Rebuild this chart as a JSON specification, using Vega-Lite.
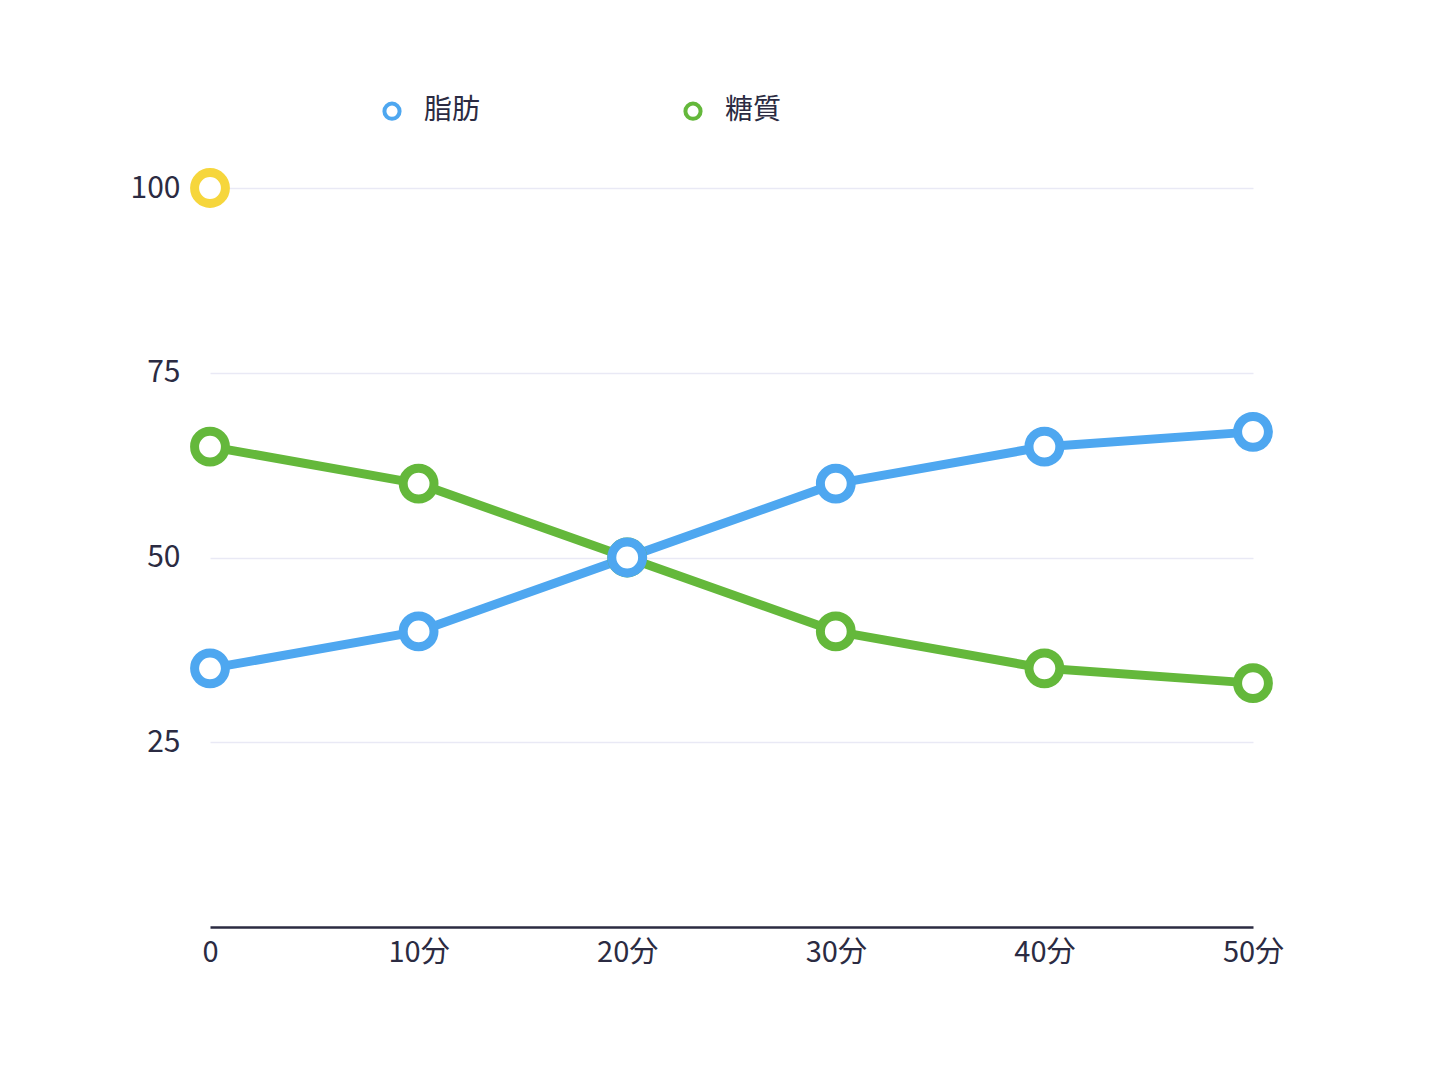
{
  "$schema": "https://vega.github.io/schema/vega-lite/v6.json",
  "width": 1043,
  "height": 739,
  "autosize": {"type": "none"},
  "padding": {"left": 210, "top": 188, "right": 195, "bottom": 154},
  "background": "white",
  "config": {
    "view": {"stroke": null},
    "font": "Noto Sans CJK JP",
    "axis": {"labelFont": "Noto Sans CJK JP", "labelColor": "#2b2b42"}
  },
  "datasets": {
    "series": [
      {"time": 0, "value": 65, "kind": "糖質"},
      {"time": 10, "value": 60, "kind": "糖質"},
      {"time": 20, "value": 50, "kind": "糖質"},
      {"time": 30, "value": 40, "kind": "糖質"},
      {"time": 40, "value": 35, "kind": "糖質"},
      {"time": 50, "value": 33, "kind": "糖質"},
      {"time": 0, "value": 35, "kind": "脂肪"},
      {"time": 10, "value": 40, "kind": "脂肪"},
      {"time": 20, "value": 50, "kind": "脂肪"},
      {"time": 30, "value": 60, "kind": "脂肪"},
      {"time": 40, "value": 65, "kind": "脂肪"},
      {"time": 50, "value": 67, "kind": "脂肪"}
    ],
    "marker": [
      {"time": 0, "value": 100}
    ]
  },
  "layer": [
    {
      "data": {"name": "series"},
      "mark": {"type": "line", "strokeWidth": 9, "strokeCap": "round", "strokeJoin": "round"},
      "encoding": {
        "x": {
          "field": "time", "type": "quantitative",
          "scale": {"domain": [0, 50], "nice": false},
          "axis": {
            "values": [0, 10, 20, 30, 40, 50],
            "labelExpr": "datum.value == 0 ? '0' : datum.value + '分'",
            "title": null, "grid": false, "ticks": false,
            "labelFlush": false, "labelBound": false, "labelOverlap": false,
            "domainColor": "#2b2b42", "domainWidth": 2.5,
            "labelFontSize": 29, "labelPadding": 11
          }
        },
        "y": {
          "field": "value", "type": "quantitative",
          "scale": {"domain": [0, 100], "nice": false},
          "axis": {
            "values": [25, 50, 75, 100],
            "title": null, "domain": false, "ticks": false,
            "gridColor": "#e9e9f5", "gridWidth": 1.5,
            "labelFontSize": 30, "labelPadding": 30
          }
        },
        "color": {
          "field": "kind", "type": "nominal",
          "scale": {"domain": ["脂肪", "糖質"], "range": ["#4ea7f0", "#64b83b"]},
          "legend": {
            "title": null,
            "orient": "none",
            "direction": "horizontal",
            "legendX": 168,
            "legendY": -91,
            "symbolType": "circle",
            "symbolSize": 230,
            "symbolStrokeWidth": 4,
            "symbolFillColor": "white",
            "labelFont": "Noto Sans CJK JP",
            "labelFontSize": 28,
            "labelColor": "#2b2b42",
            "labelOffset": 18,
            "columnPadding": 196
          }
        },
        "detail": {"field": "kind"}
      }
    },
    {
      "data": {"name": "series"},
      "mark": {"type": "point", "filled": false, "fill": "white", "fillOpacity": 1, "opacity": 1, "size": 950, "strokeWidth": 9},
      "encoding": {
        "x": {"field": "time", "type": "quantitative"},
        "y": {"field": "value", "type": "quantitative"},
        "color": {
          "field": "kind", "type": "nominal"
        }
      }
    },
    {
      "data": {"name": "marker"},
      "mark": {"type": "point", "filled": false, "fill": "white", "fillOpacity": 1, "opacity": 1, "size": 950, "strokeWidth": 9, "color": "#f6d63c"},
      "encoding": {
        "x": {"field": "time", "type": "quantitative"},
        "y": {"field": "value", "type": "quantitative"}
      }
    }
  ]
}
